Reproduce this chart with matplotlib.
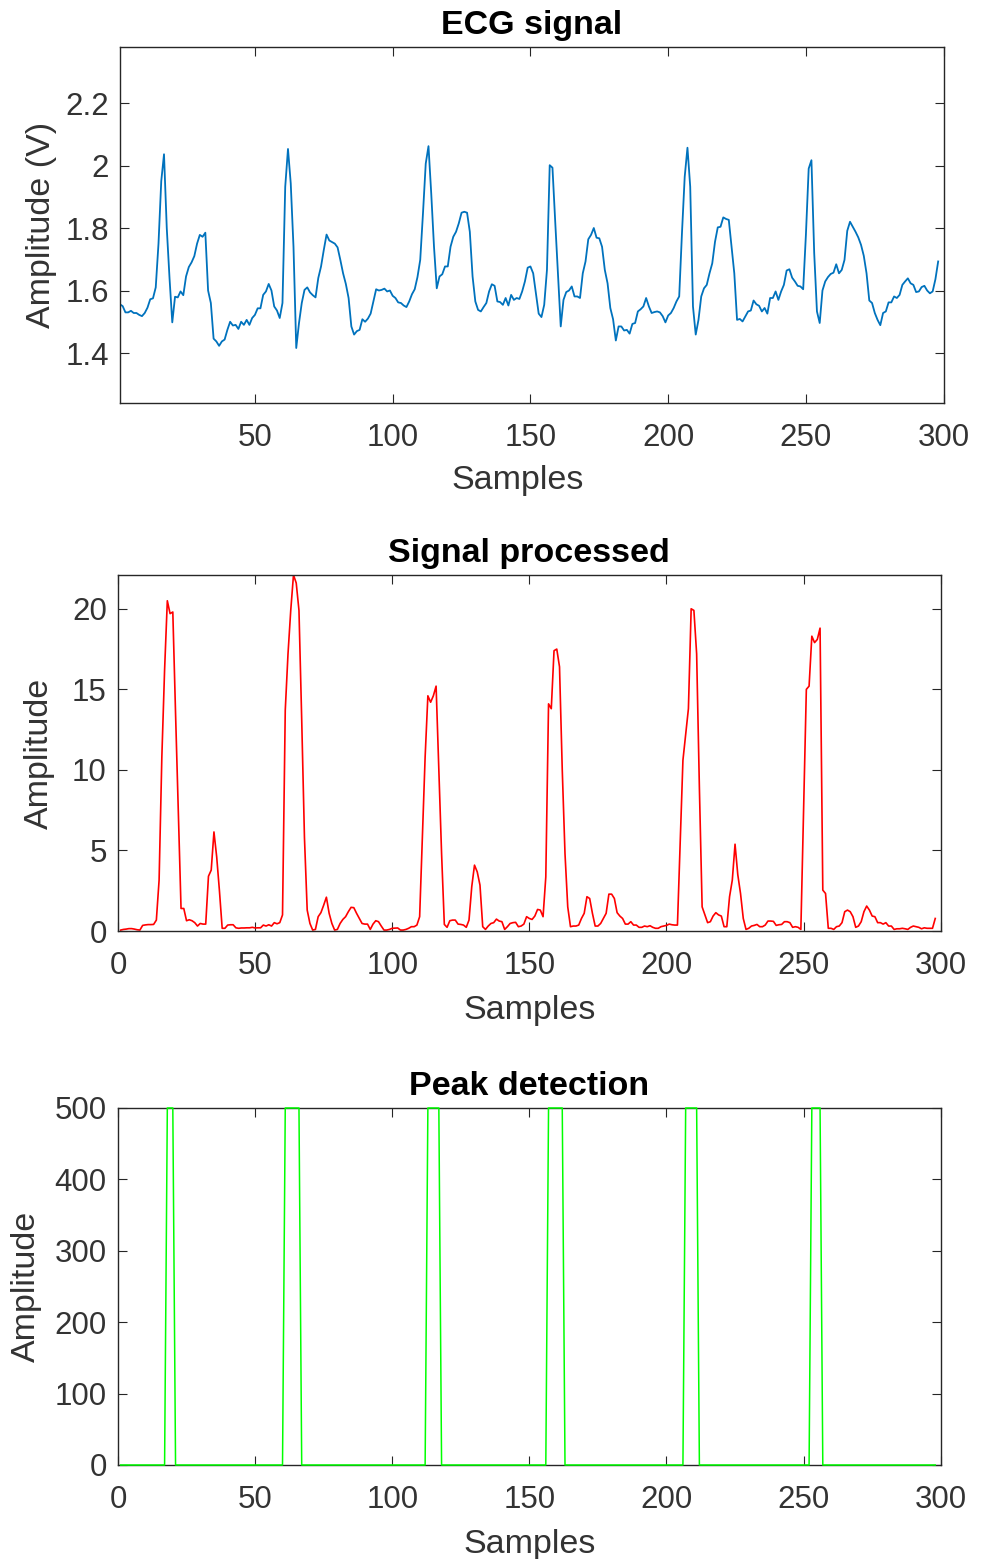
import numpy as np
import matplotlib
matplotlib.use('Agg')
import matplotlib.pyplot as plt
from matplotlib.ticker import FuncFormatter

# Dados (amostras 1..298)
ecg = [
    1.556, 1.55, 1.53, 1.53, 1.535, 1.528, 1.528, 1.522, 1.518, 1.528,
    1.545, 1.572, 1.575, 1.61, 1.75, 1.95, 2.036, 1.80, 1.64, 1.498,
    1.58, 1.578, 1.597, 1.585, 1.645, 1.675, 1.69, 1.71, 1.75, 1.778,
    1.772, 1.785, 1.60, 1.56, 1.446, 1.437, 1.423, 1.437, 1.443, 1.474,
    1.50, 1.488, 1.49, 1.477, 1.50, 1.49, 1.506, 1.49, 1.512, 1.522,
    1.543, 1.543, 1.586, 1.597, 1.621, 1.60, 1.549, 1.536, 1.512, 1.56,
    1.932, 2.053, 1.943, 1.74, 1.416, 1.496, 1.56, 1.602, 1.61, 1.594,
    1.585, 1.578, 1.64, 1.677, 1.73, 1.779, 1.76, 1.755, 1.75, 1.738,
    1.698, 1.655, 1.621, 1.576, 1.485, 1.459, 1.47, 1.474, 1.508, 1.50,
    1.51, 1.526, 1.565, 1.604, 1.60, 1.602, 1.606, 1.597, 1.60, 1.583,
    1.576, 1.562, 1.56, 1.552, 1.547, 1.565, 1.588, 1.604, 1.643, 1.698,
    1.847, 2.006, 2.062, 1.91, 1.74, 1.607, 1.645, 1.652, 1.677, 1.677,
    1.74, 1.772, 1.788, 1.815, 1.849, 1.852, 1.849, 1.788, 1.645, 1.565,
    1.538, 1.533, 1.547, 1.56, 1.597, 1.62, 1.615, 1.565, 1.563, 1.554,
    1.576, 1.552, 1.586, 1.57, 1.576, 1.573, 1.597, 1.629, 1.673, 1.677,
    1.655, 1.591, 1.526, 1.515, 1.554, 1.666, 2.001, 1.993, 1.82, 1.655,
    1.485, 1.57, 1.595, 1.6, 1.613, 1.581, 1.581, 1.576, 1.655, 1.693,
    1.764, 1.778, 1.80, 1.769, 1.767, 1.74, 1.666, 1.623, 1.544, 1.508,
    1.44, 1.485, 1.485, 1.472, 1.474, 1.462, 1.493, 1.496, 1.533, 1.54,
    1.549, 1.576, 1.549, 1.528, 1.531, 1.533, 1.53, 1.518, 1.498, 1.52,
    1.528, 1.544, 1.565, 1.581, 1.783, 1.964, 2.057, 1.932, 1.549, 1.459,
    1.506, 1.581, 1.607, 1.618, 1.655, 1.687, 1.756, 1.802, 1.804, 1.834,
    1.829, 1.826, 1.74, 1.655, 1.506, 1.509, 1.501, 1.517, 1.533, 1.536,
    1.568, 1.556, 1.551, 1.533, 1.544, 1.526, 1.576, 1.576, 1.597, 1.57,
    1.597, 1.618, 1.664, 1.668, 1.641, 1.629, 1.615, 1.613, 1.604, 1.78,
    1.99, 2.017, 1.72, 1.533, 1.496, 1.6, 1.629, 1.643, 1.653, 1.657,
    1.684, 1.655, 1.666, 1.698, 1.791, 1.82, 1.804, 1.788, 1.77, 1.746,
    1.711, 1.655, 1.568, 1.56, 1.528, 1.506, 1.489, 1.528, 1.533, 1.562,
    1.562, 1.581, 1.576, 1.586, 1.618, 1.629, 1.639, 1.623, 1.618, 1.595,
    1.597, 1.611, 1.615, 1.6, 1.591, 1.597, 1.636, 1.693,
]

processed = [
    0.06, 0.1, 0.12, 0.15, 0.15, 0.12, 0.08, 0.06, 0.35, 0.38,
    0.4, 0.4, 0.41, 0.68, 3.16, 10.8, 16.2, 20.5, 19.7, 19.8,
    13.5, 7.5, 1.4, 1.4, 0.64, 0.7, 0.64, 0.52, 0.31, 0.47,
    0.43, 0.43, 3.4, 3.78, 6.15, 4.6, 2.5, 0.17, 0.17, 0.37,
    0.39, 0.39, 0.2, 0.17, 0.19, 0.19, 0.2, 0.2, 0.23, 0.19,
    0.2, 0.2, 0.37, 0.31, 0.39, 0.31, 0.52, 0.45, 0.52, 1.0,
    13.7, 17.2, 19.9, 22.1, 21.6, 19.9, 13.1, 5.8, 1.3, 0.47,
    0.06, 0.1, 0.89, 1.14, 1.6, 2.1, 1.1, 0.47, 0.06, 0.1,
    0.47, 0.72, 0.89, 1.2, 1.47, 1.45, 1.1, 0.78, 0.47, 0.43,
    0.43, 0.1, 0.43, 0.64, 0.58, 0.31, 0.06, 0.06, 0.1, 0.17,
    0.18, 0.19, 0.06, 0.06, 0.1, 0.17, 0.27, 0.27, 0.37, 0.89,
    5.8, 10.8, 14.6, 14.2, 14.6, 15.2, 10.0, 4.8, 0.41, 0.23,
    0.64, 0.68, 0.68, 0.43, 0.41, 0.37, 0.23, 0.68, 2.75, 4.09,
    3.67, 2.85, 0.27, 0.1, 0.31, 0.47, 0.52, 0.74, 0.62, 0.58,
    0.1, 0.27, 0.47, 0.52, 0.54, 0.27, 0.31, 0.43, 0.89, 0.78,
    0.72, 0.93, 1.34, 1.3, 0.89, 3.36, 14.1, 13.8, 17.4, 17.5,
    16.4, 10.0, 4.8, 1.5, 0.27, 0.31, 0.31, 0.37, 0.78, 1.1,
    2.13, 2.02, 1.1, 0.31, 0.31, 0.47, 0.78, 1.1, 2.29, 2.29,
    2.02, 1.14, 0.93, 0.78, 0.43, 0.43, 0.58, 0.37, 0.37, 0.23,
    0.23, 0.31, 0.27, 0.33, 0.23, 0.17, 0.17, 0.27, 0.31, 0.35,
    0.43, 0.39, 0.37, 0.37, 5.5, 10.6, 12.2, 13.8, 20.0, 19.9,
    17.2, 8.9, 1.5, 1.0, 0.52, 0.58, 0.93, 1.14, 1.0, 0.93,
    0.27, 0.27, 2.13, 3.16, 5.39, 3.5, 2.33, 0.78, 0.1, 0.17,
    0.31, 0.35, 0.41, 0.27, 0.27, 0.37, 0.62, 0.62, 0.6, 0.35,
    0.39, 0.41, 0.58, 0.58, 0.52, 0.23, 0.27, 0.23, 0.1, 7.6,
    15.0, 15.2, 18.3, 17.9, 18.1, 18.8, 2.54, 2.33, 0.17, 0.17,
    0.1, 0.27, 0.31, 0.52, 1.2, 1.3, 1.2, 0.89, 0.23, 0.31,
    0.58, 1.2, 1.55, 1.3, 0.93, 0.89, 0.52, 0.52, 0.43, 0.52,
    0.31, 0.31, 0.1, 0.14, 0.14, 0.17, 0.14, 0.1, 0.23, 0.31,
    0.27, 0.23, 0.14, 0.2, 0.17, 0.17, 0.17, 0.78,
]

# Janelas de deteccao de pico (primeira e ultima amostra em 500)
peak_start = [18, 61, 113, 157, 207, 253]
peak_end = [20, 66, 117, 162, 211, 256]
peak_level = 500

n = np.arange(1, len(ecg) + 1)
peaks = np.zeros(len(ecg))
for s, e in zip(peak_start, peak_end):
    peaks[(n >= s) & (n <= e)] = peak_level

plt.rcParams['font.family'] = ['Liberation Sans', 'DejaVu Sans']

TICK_FS = 22.5
LABEL_FS = 24.5
TITLE_FS = 24.5

fig = plt.figure(figsize=(9.83, 15.59), dpi=100)

ax1 = fig.add_axes([0.122, 0.7415, 0.838, 0.2285])
ax2 = fig.add_axes([0.120, 0.4028, 0.837, 0.2284])
ax3 = fig.add_axes([0.120, 0.0603, 0.837, 0.2290])

ax1.plot(n, ecg, color='#0072BD', linewidth=1.3)
ax1.set_xlim(1, 300)
ax1.set_ylim(1.24, 2.38)
ax1.set_xticks([50, 100, 150, 200, 250, 300])
ax1.set_yticks([1.4, 1.6, 1.8, 2.0, 2.2])
ax1.yaxis.set_major_formatter(FuncFormatter(lambda v, p: '%g' % v))
ax1.set_title('ECG signal', fontsize=TITLE_FS, fontweight='bold', pad=9)
ax1.set_xlabel('Samples', fontsize=LABEL_FS)
ax1.set_ylabel('Amplitude (V)', fontsize=LABEL_FS)
ax1.xaxis.set_label_coords(0.483, -0.175)
ax1.yaxis.set_label_coords(-0.0765, 0.5)

ax2.plot(n, processed, color='#FF0000', linewidth=1.2)
ax2.set_xlim(0, 300)
ax2.set_ylim(0, max(processed))
ax2.set_xticks([0, 50, 100, 150, 200, 250, 300])
ax2.set_yticks([0, 5, 10, 15, 20])
ax2.set_title('Signal processed', fontsize=TITLE_FS, fontweight='bold', pad=9)
ax2.set_xlabel('Samples', fontsize=LABEL_FS)
ax2.set_ylabel('Amplitude', fontsize=LABEL_FS)
ax2.xaxis.set_label_coords(0.5, -0.18)
ax2.yaxis.set_label_coords(-0.0766, 0.5)

ax3.plot(n, peaks, color='#00FF00', linewidth=1.1, clip_on=False, zorder=3)
ax3.set_xlim(0, 300)
ax3.set_ylim(0, 500)
ax3.set_xticks([0, 50, 100, 150, 200, 250, 300])
ax3.set_yticks([0, 100, 200, 300, 400, 500])
ax3.set_title('Peak detection', fontsize=TITLE_FS, fontweight='bold', pad=9)
ax3.set_xlabel('Samples', fontsize=LABEL_FS)
ax3.set_ylabel('Amplitude', fontsize=LABEL_FS)
ax3.xaxis.set_label_coords(0.5, -0.18)
ax3.yaxis.set_label_coords(-0.0923, 0.5)

for ax in (ax1, ax2, ax3):
    ax.tick_params(direction='in', length=6.5, width=0.8, top=True, right=True,
                   labelsize=TICK_FS, colors='#262626', labelcolor='#333333')
    ax.tick_params(axis='x', pad=14.5)
    ax.tick_params(axis='y', pad=8)
    for sp in ax.spines.values():
        sp.set_linewidth(1.0)
        sp.set_color('#262626')
    ax.xaxis.label.set_color('#333333')
    ax.yaxis.label.set_color('#333333')

fig.savefig('out.png', dpi=100)
